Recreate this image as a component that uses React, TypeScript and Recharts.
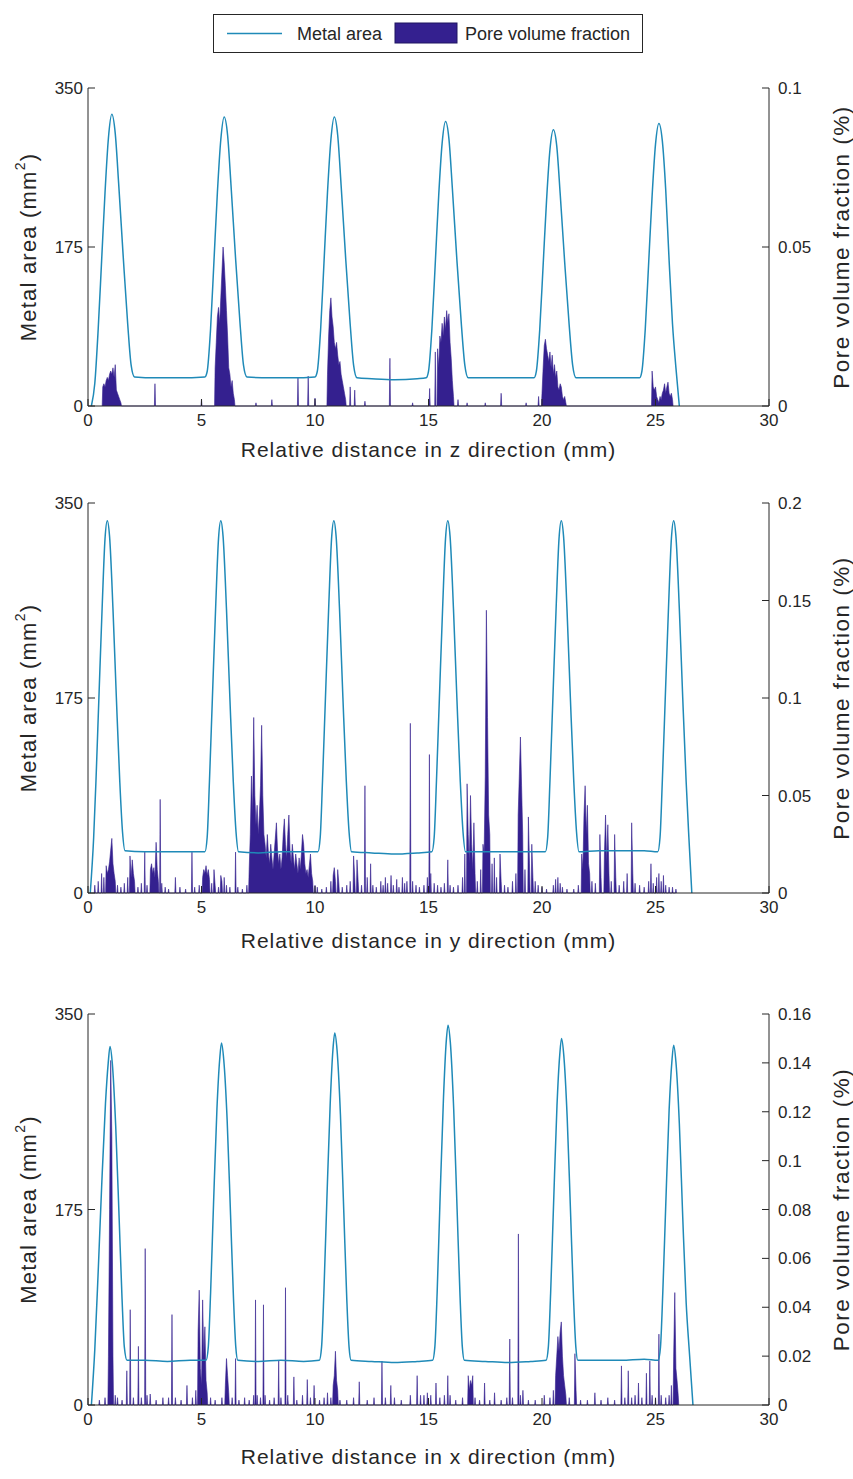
import React from "react";
import { ComposedChart, Line, Area, XAxis, YAxis } from "recharts";

const INK = "#262626";
const METAL_COLOR = "#1f8ab8";
const PORE_COLOR = "#34208f";
const FONT = "'Liberation Sans', Arial, Helvetica, sans-serif";

const X_TICKS = [0, 5, 10, 15, 20, 25, 30];
const AREA_TICKS = [0, 175, 350];

// metal area (mm^2) along each direction, [distance mm, area]
const metalZ: [number, number][] = [
  [0.15, 0], [0.3, 25], [0.45, 85], [0.6, 160], [0.75, 235], [0.9, 295], [1.05, 321], [1.2, 300], [1.35, 245], [1.55, 165], [1.75, 90], [1.9, 45], [2.05, 32],
  [3, 31], [4, 31], [5.15, 32],
  [5.25, 38], [5.4, 85], [5.55, 160], [5.7, 235], [5.85, 293], [6.0, 318], [6.15, 298], [6.3, 243], [6.5, 163], [6.7, 90], [6.85, 45], [7.0, 32],
  [8, 31], [9, 31], [10.0, 32],
  [10.1, 38], [10.25, 85], [10.4, 160], [10.55, 235], [10.7, 293], [10.85, 318], [11.0, 298], [11.15, 243], [11.35, 163], [11.55, 90], [11.7, 45], [11.85, 31],
  [12.5, 30], [13.5, 29], [14.5, 30], [14.9, 31],
  [15.0, 38], [15.15, 85], [15.3, 158], [15.45, 232], [15.6, 289], [15.75, 313], [15.9, 294], [16.05, 240], [16.25, 161], [16.45, 89], [16.6, 45], [16.75, 31],
  [17.5, 31], [18.5, 31], [19.65, 31],
  [19.75, 38], [19.9, 84], [20.05, 155], [20.2, 226], [20.35, 282], [20.5, 304], [20.65, 286], [20.8, 234], [21.0, 158], [21.2, 88], [21.35, 45], [21.5, 31],
  [22.5, 31], [23.5, 31], [24.3, 31],
  [24.4, 38], [24.55, 85], [24.7, 158], [24.85, 231], [25.0, 288], [25.15, 311], [25.3, 292], [25.45, 238], [25.6, 160], [25.75, 90], [25.9, 42], [26.05, 0],
];

const metalY: [number, number][] = [
  [0.1, 0], [0.25, 50], [0.35, 100], [0.48, 175], [0.63, 260], [0.75, 318], [0.85, 334], [0.95, 320], [1.1, 255], [1.25, 175], [1.4, 100], [1.52, 55], [1.63, 38],
  [2.5, 37], [3.5, 37], [4.5, 37], [5.15, 37],
  [5.25, 50], [5.35, 100], [5.48, 175], [5.63, 260], [5.75, 318], [5.85, 334], [5.95, 320], [6.1, 255], [6.25, 175], [6.4, 100], [6.52, 55], [6.63, 37],
  [7.5, 36], [8.5, 37], [9.5, 37], [10.13, 37],
  [10.23, 50], [10.33, 100], [10.46, 175], [10.61, 260], [10.73, 318], [10.83, 334], [10.93, 320], [11.08, 255], [11.23, 175], [11.38, 100], [11.5, 55], [11.61, 37],
  [12.5, 36], [13.5, 35], [14.5, 36], [15.15, 37],
  [15.25, 50], [15.35, 100], [15.48, 175], [15.63, 260], [15.75, 318], [15.85, 334], [15.95, 320], [16.1, 255], [16.25, 175], [16.4, 100], [16.52, 55], [16.63, 37],
  [17.5, 37], [18.5, 37], [19.5, 37], [20.15, 37],
  [20.25, 50], [20.35, 100], [20.48, 175], [20.63, 260], [20.75, 318], [20.85, 334], [20.95, 320], [21.1, 255], [21.25, 175], [21.4, 100], [21.52, 55], [21.63, 37],
  [22.5, 38], [23.5, 38], [24.5, 38], [25.1, 37],
  [25.2, 50], [25.3, 100], [25.43, 175], [25.58, 260], [25.7, 318], [25.8, 334], [25.9, 320], [26.05, 255], [26.2, 175], [26.35, 100], [26.47, 50], [26.6, 0],
];

const metalX: [number, number][] = [
  [0.15, 0], [0.3, 50], [0.45, 120], [0.6, 195], [0.77, 270], [0.89, 306], [0.97, 321], [1.07, 306], [1.22, 250], [1.37, 168], [1.5, 95], [1.6, 52], [1.72, 40],
  [2.5, 40], [3.5, 39], [4.5, 40], [5.2, 40],
  [5.3, 52], [5.4, 100], [5.53, 180], [5.68, 265], [5.8, 309], [5.88, 324], [5.98, 309], [6.13, 255], [6.28, 170], [6.41, 95], [6.51, 52], [6.6, 40],
  [7.5, 39], [8.5, 40], [9.5, 39], [10.19, 40],
  [10.29, 52], [10.39, 100], [10.52, 182], [10.67, 270], [10.79, 318], [10.87, 333], [10.97, 318], [11.12, 260], [11.27, 172], [11.4, 95], [11.5, 52], [11.59, 40],
  [12.5, 39], [13.5, 38], [14.5, 39], [15.18, 40],
  [15.28, 52], [15.38, 100], [15.51, 185], [15.66, 275], [15.78, 325], [15.86, 340], [15.96, 325], [16.11, 265], [16.26, 175], [16.39, 97], [16.49, 52], [16.58, 40],
  [17.5, 39], [18.5, 38], [19.5, 39], [20.18, 40],
  [20.28, 52], [20.38, 100], [20.51, 180], [20.66, 268], [20.78, 313], [20.86, 328], [20.96, 313], [21.11, 257], [21.26, 171], [21.39, 95], [21.49, 52], [21.58, 40],
  [22.5, 40], [23.5, 40], [24.5, 41], [25.12, 40],
  [25.22, 52], [25.32, 100], [25.45, 178], [25.6, 264], [25.72, 307], [25.8, 322], [25.9, 307], [26.05, 252], [26.2, 168], [26.35, 92], [26.5, 45], [26.65, 0],
];

// pore volume fraction (%) peaks, [distance mm, value]
const poreZ: [number, number][] = [
  [0.65, 0.006], [0.7, 0.007], [0.75, 0.006], [0.8, 0.008], [0.85, 0.009], [0.9, 0.008], [0.95, 0.01], [1.0, 0.011], [1.05, 0.01], [1.1, 0.012], [1.15, 0.009], [1.2, 0.013], [1.25, 0.005], [1.3, 0.004], [1.35, 0.003], [1.4, 0.002], [1.45, 0.001],
  [2.95, 0.007], [5.0, 0.0022],
  [5.6, 0.012], [5.65, 0.02], [5.7, 0.028], [5.75, 0.031], [5.8, 0.026], [5.85, 0.034], [5.9, 0.042], [5.95, 0.05], [6.0, 0.045], [6.05, 0.038], [6.1, 0.03], [6.15, 0.022], [6.2, 0.012], [6.25, 0.01], [6.3, 0.006], [6.35, 0.008], [6.4, 0.004], [6.45, 0.002],
  [7.4, 0.001], [8.1, 0.002], [9.25, 0.009], [9.7, 0.0094], [10.0, 0.0025],
  [10.55, 0.01], [10.6, 0.022], [10.65, 0.03], [10.7, 0.034], [10.75, 0.028], [10.8, 0.025], [10.85, 0.02], [10.9, 0.018], [10.95, 0.02], [11.0, 0.016], [11.05, 0.013], [11.1, 0.014], [11.15, 0.01], [11.2, 0.008], [11.25, 0.006], [11.3, 0.004], [11.35, 0.002],
  [11.55, 0.006], [11.75, 0.005], [12.2, 0.0015], [13.3, 0.015], [14.3, 0.001],
  [15.05, 0.0055], [15.3, 0.017],
  [15.4, 0.018], [15.45, 0.012], [15.5, 0.022], [15.55, 0.02], [15.6, 0.026], [15.65, 0.022], [15.7, 0.028], [15.75, 0.024], [15.8, 0.03], [15.85, 0.026], [15.9, 0.029], [15.95, 0.02], [16.0, 0.015], [16.05, 0.008], [16.1, 0.003],
  [16.3, 0.002], [16.7, 0.001], [17.5, 0.001], [18.2, 0.004], [19.3, 0.001],
  [19.85, 0.003],
  [20.0, 0.004], [20.05, 0.012], [20.1, 0.019], [20.15, 0.021], [20.2, 0.018], [20.25, 0.016], [20.3, 0.014], [20.35, 0.017], [20.4, 0.012], [20.45, 0.016], [20.5, 0.01], [20.55, 0.013], [20.6, 0.009], [20.65, 0.011], [20.7, 0.006], [20.75, 0.005], [20.8, 0.007], [20.85, 0.006], [20.9, 0.003], [20.95, 0.002], [21.0, 0.003], [21.05, 0.001],
  [24.85, 0.011], [24.9, 0.006], [24.95, 0.005], [25.0, 0.006], [25.05, 0.003], [25.1, 0.002], [25.15, 0.001], [25.2, 0.003], [25.25, 0.002], [25.3, 0.004], [25.35, 0.005], [25.4, 0.007], [25.45, 0.004], [25.5, 0.006], [25.55, 0.0075], [25.6, 0.004], [25.65, 0.003], [25.7, 0.004], [25.75, 0.002],
];

const poreY: [number, number][] = [
  [0.3, 0.004], [0.45, 0.006], [0.6, 0.01], [0.7, 0.008], [0.8, 0.014], [0.85, 0.01], [0.9, 0.012], [0.95, 0.016], [1.0, 0.022], [1.05, 0.028], [1.1, 0.015], [1.15, 0.01], [1.2, 0.006], [1.3, 0.004], [1.45, 0.003],
  [1.6, 0.005], [1.75, 0.008], [1.85, 0.019], [1.9, 0.008], [1.95, 0.017], [2.0, 0.01], [2.05, 0.006], [2.2, 0.003], [2.35, 0.005], [2.5, 0.021], [2.6, 0.004],
  [2.75, 0.012], [2.8, 0.015], [2.85, 0.01], [2.9, 0.013], [2.95, 0.008], [3.0, 0.026], [3.05, 0.012], [3.1, 0.006], [3.18, 0.048], [3.25, 0.005], [3.4, 0.003], [3.55, 0.002],
  [3.85, 0.008], [4.05, 0.003], [4.3, 0.002], [4.58, 0.021], [4.7, 0.003], [4.9, 0.004],
  [5.05, 0.008], [5.1, 0.012], [5.15, 0.01], [5.2, 0.014], [5.25, 0.009], [5.3, 0.012], [5.35, 0.007], [5.45, 0.005], [5.55, 0.012], [5.6, 0.004], [5.75, 0.003], [5.85, 0.009], [5.9, 0.006], [6.0, 0.008], [6.1, 0.004], [6.25, 0.003], [6.5, 0.021], [6.6, 0.003], [6.8, 0.002],
  [7.0, 0.004], [7.1, 0.012], [7.15, 0.03], [7.2, 0.06], [7.25, 0.04], [7.3, 0.09], [7.35, 0.05], [7.4, 0.035], [7.45, 0.045], [7.5, 0.03], [7.55, 0.04], [7.6, 0.055], [7.65, 0.086], [7.7, 0.05], [7.75, 0.03], [7.8, 0.025], [7.85, 0.018], [7.9, 0.03], [7.95, 0.02],
  [8.0, 0.015], [8.05, 0.025], [8.1, 0.018], [8.15, 0.012], [8.2, 0.02], [8.25, 0.028], [8.3, 0.036], [8.35, 0.022], [8.4, 0.015], [8.45, 0.02], [8.5, 0.012], [8.55, 0.018], [8.6, 0.03], [8.65, 0.038], [8.7, 0.025], [8.75, 0.018], [8.8, 0.03], [8.85, 0.04], [8.9, 0.022], [8.95, 0.015],
  [9.0, 0.025], [9.05, 0.018], [9.1, 0.012], [9.15, 0.02], [9.2, 0.015], [9.25, 0.01], [9.3, 0.018], [9.35, 0.012], [9.4, 0.02], [9.45, 0.03], [9.5, 0.025], [9.55, 0.015], [9.6, 0.01], [9.65, 0.012], [9.7, 0.008], [9.75, 0.014], [9.8, 0.02], [9.85, 0.01], [9.9, 0.006],
  [10.0, 0.004], [10.1, 0.003], [10.3, 0.002], [10.5, 0.003], [10.7, 0.006], [10.8, 0.009], [10.85, 0.013], [10.9, 0.006], [11.0, 0.012], [11.05, 0.005], [11.2, 0.003], [11.4, 0.004], [11.55, 0.006], [11.7, 0.019], [11.75, 0.008], [11.85, 0.017], [11.9, 0.006],
  [12.05, 0.004], [12.2, 0.055], [12.3, 0.008], [12.45, 0.015], [12.55, 0.004], [12.7, 0.003], [12.9, 0.006], [13.0, 0.004], [13.1, 0.008], [13.2, 0.005], [13.35, 0.009], [13.45, 0.004], [13.6, 0.007], [13.7, 0.003], [13.85, 0.008], [13.95, 0.005],
  [14.05, 0.006], [14.2, 0.087], [14.3, 0.006], [14.45, 0.004], [14.6, 0.003], [14.8, 0.004], [14.95, 0.008], [15.04, 0.071], [15.1, 0.01], [15.25, 0.005], [15.4, 0.004], [15.55, 0.003], [15.7, 0.005], [15.85, 0.017], [15.95, 0.004],
  [16.1, 0.003], [16.3, 0.004], [16.5, 0.008], [16.6, 0.02], [16.7, 0.056], [16.75, 0.03], [16.8, 0.015], [16.85, 0.05], [16.9, 0.025], [16.95, 0.012], [17.0, 0.036], [17.05, 0.01], [17.15, 0.006],
  [17.3, 0.012], [17.4, 0.025], [17.45, 0.02], [17.5, 0.06], [17.55, 0.145], [17.6, 0.09], [17.65, 0.04], [17.7, 0.03], [17.8, 0.015], [17.9, 0.018], [18.0, 0.008], [18.15, 0.02], [18.2, 0.006], [18.35, 0.004], [18.5, 0.003],
  [18.7, 0.006], [18.85, 0.01], [18.95, 0.04], [19.0, 0.06], [19.05, 0.08], [19.1, 0.055], [19.15, 0.03], [19.25, 0.012], [19.4, 0.039], [19.45, 0.015], [19.55, 0.025], [19.6, 0.008], [19.7, 0.006], [19.83, 0.004],
  [20.0, 0.003], [20.2, 0.002], [20.5, 0.004], [20.6, 0.007], [20.7, 0.008], [20.8, 0.005], [20.9, 0.003], [21.1, 0.002], [21.4, 0.002], [21.6, 0.004],
  [21.75, 0.02], [21.8, 0.012], [21.85, 0.04], [21.9, 0.055], [21.95, 0.03], [22.0, 0.045], [22.05, 0.015], [22.1, 0.01], [22.2, 0.006], [22.35, 0.005], [22.55, 0.03], [22.6, 0.008],
  [22.75, 0.02], [22.8, 0.04], [22.85, 0.015], [22.9, 0.035], [22.95, 0.01], [23.05, 0.006], [23.2, 0.03], [23.25, 0.008], [23.4, 0.004], [23.6, 0.006], [23.75, 0.01], [23.95, 0.036], [24.0, 0.01], [24.1, 0.005],
  [24.3, 0.004], [24.5, 0.003], [24.7, 0.006], [24.8, 0.015], [24.9, 0.005], [25.05, 0.008], [25.15, 0.01], [25.25, 0.006], [25.35, 0.009], [25.45, 0.004], [25.6, 0.003], [25.75, 0.003], [25.9, 0.002],
];

const poreX: [number, number][] = [
  [0.5, 0.002], [0.75, 0.003], [0.9, 0.02], [0.95, 0.08], [1.0, 0.141], [1.05, 0.11], [1.1, 0.02], [1.2, 0.004], [1.3, 0.003], [1.5, 0.002],
  [1.71, 0.014], [1.86, 0.039], [2.0, 0.003], [2.22, 0.024], [2.35, 0.003], [2.52, 0.064], [2.6, 0.004], [2.74, 0.0045], [3.0, 0.002], [3.3, 0.003], [3.55, 0.003], [3.7, 0.037], [3.85, 0.003], [4.1, 0.002], [4.36, 0.008], [4.6, 0.003],
  [4.75, 0.006], [4.85, 0.03], [4.9, 0.047], [4.95, 0.015], [5.0, 0.008], [5.05, 0.043], [5.1, 0.02], [5.15, 0.032], [5.2, 0.01], [5.25, 0.005], [5.4, 0.003], [5.6, 0.002], [5.9, 0.003],
  [6.05, 0.008], [6.1, 0.019], [6.15, 0.012], [6.2, 0.005], [6.35, 0.003], [6.5, 0.019], [6.65, 0.002], [6.9, 0.003], [7.1, 0.002], [7.3, 0.004], [7.38, 0.043], [7.45, 0.004], [7.6, 0.003], [7.73, 0.041], [7.8, 0.004],
  [8.0, 0.002], [8.2, 0.003], [8.4, 0.018], [8.5, 0.003], [8.7, 0.048], [8.8, 0.004], [9.07, 0.0115], [9.2, 0.002], [9.45, 0.004], [9.66, 0.0104], [9.8, 0.003], [9.96, 0.008],
  [10.2, 0.002], [10.4, 0.003], [10.55, 0.005], [10.7, 0.003], [10.8, 0.008], [10.85, 0.012], [10.9, 0.022], [10.95, 0.01], [11.0, 0.006], [11.1, 0.002], [11.4, 0.002], [11.7, 0.003], [11.95, 0.0095],
  [12.3, 0.002], [12.6, 0.003], [12.95, 0.018], [13.1, 0.003], [13.34, 0.008], [13.5, 0.003], [13.8, 0.002], [14.2, 0.004], [14.5, 0.012], [14.65, 0.004], [14.8, 0.004], [14.95, 0.005], [15.1, 0.004], [15.33, 0.009], [15.5, 0.003], [15.7, 0.004], [15.85, 0.012], [15.95, 0.004],
  [16.2, 0.002], [16.5, 0.003], [16.75, 0.012], [16.8, 0.006], [16.85, 0.01], [16.9, 0.008], [16.95, 0.012], [17.05, 0.003], [17.25, 0.002], [17.47, 0.009], [17.7, 0.002], [17.91, 0.005],
  [18.2, 0.002], [18.45, 0.003], [18.58, 0.027], [18.7, 0.003], [18.96, 0.07], [19.05, 0.004], [19.16, 0.006], [19.4, 0.002], [19.7, 0.002], [20.1, 0.004], [20.35, 0.003],
  [20.5, 0.006], [20.6, 0.012], [20.65, 0.02], [20.7, 0.028], [20.75, 0.022], [20.8, 0.03], [20.85, 0.034], [20.9, 0.02], [20.95, 0.012], [21.0, 0.008], [21.05, 0.004], [21.2, 0.003], [21.45, 0.021], [21.5, 0.006],
  [21.7, 0.002], [22.0, 0.002], [22.33, 0.005], [22.6, 0.002], [22.9, 0.003], [23.2, 0.002], [23.5, 0.016], [23.65, 0.003], [23.8, 0.014], [23.95, 0.003], [24.1, 0.004], [24.25, 0.009], [24.4, 0.003], [24.6, 0.013], [24.75, 0.018], [24.85, 0.004],
  [25.0, 0.003], [25.15, 0.029], [25.25, 0.004], [25.45, 0.003], [25.6, 0.004], [25.7, 0.008], [25.8, 0.02], [25.85, 0.046], [25.9, 0.015], [25.95, 0.01], [26.0, 0.004],
];

const poreTicksZ = [0, 0.05, 0.1];
const poreTicksY = [0, 0.05, 0.1, 0.15, 0.2];
const poreTicksX = [0, 0.02, 0.04, 0.06, 0.08, 0.1, 0.12, 0.14, 0.16];

// merge both series into one table keyed by distance; isolated spikes get a foot on each side
function buildRows(metal: [number, number][], pores: [number, number][]) {
  const rows = new Map<string, any>();
  const put = (x: number, key: string, v: number) => {
    const k = x.toFixed(3);
    const row = rows.get(k) || { x: +k };
    row[key] = v;
    rows.set(k, row);
  };
  metal.forEach(([x, v]) => put(x, "metal", v));
  pores.forEach(([x, v], i) => {
    const prev = pores[i - 1];
    const next = pores[i + 1];
    if (!prev || x - prev[0] > 0.06) put(x - 0.025, "pore", 0);
    put(x, "pore", v);
    if (!next || next[0] - x > 0.06) put(x + 0.025, "pore", 0);
  });
  return Array.from(rows.values()).sort((a, b) => a.x - b.x);
}

const fmt = (v: number) => String(+v.toFixed(3));

const tickStyle = { fill: INK, fontSize: 17, fontFamily: FONT };

const LeftTitle = (props: any) => {
  const { x, y, height } = props.viewBox;
  const cx = x + 28;
  const cy = y + height / 2;
  return (
    <text x={cx} y={cy} transform={`rotate(-90 ${cx} ${cy})`} textAnchor="middle" dominantBaseline="central"
      style={{ fontSize: 22, letterSpacing: 1.2, fill: INK, fontFamily: FONT }}>
      <tspan>Metal area (mm</tspan>
      <tspan dy={-8} fontSize={14}>2</tspan>
      <tspan dy={8}>)</tspan>
    </text>
  );
};

const RightTitle = (props: any) => {
  const { x, y, height } = props.viewBox;
  const cx = x + 72;
  const cy = y + height / 2;
  return (
    <text x={cx} y={cy} transform={`rotate(-90 ${cx} ${cy})`} textAnchor="middle" dominantBaseline="central"
      style={{ fontSize: 22.5, letterSpacing: 1.5, fill: INK, fontFamily: FONT }}>
      Pore volume fraction (%)
    </text>
  );
};

function Panel({ top, plotHeight, metal, pores, poreMax, poreTicks, xLabel, xLabelGap }: any) {
  const data = buildRows(metal, pores);
  const height = 28 + plotHeight + 60 + 2;
  const BottomTitle = (props: any) => {
    const { x, y, width } = props.viewBox;
    return (
      <text x={x + width / 2} y={y + xLabelGap} textAnchor="middle" dominantBaseline="central"
        style={{ fontSize: 21, letterSpacing: 1, fill: INK, fontFamily: FONT }}>
        {xLabel}
      </text>
    );
  };
  return (
    <div style={{ position: "absolute", left: 0, top }}>
      <ComposedChart width={853} height={height} data={data} margin={{ top: 28, right: 0, bottom: 2, left: 0 }}>
        <XAxis
          xAxisId="b"
          type="number"
          dataKey="x"
          domain={[0, 30]}
          ticks={X_TICKS}
          interval={0}
          height={60}
          tickSize={-7}
          tickMargin={15}
          axisLine={{ stroke: INK }}
          tickLine={{ stroke: INK }}
          tick={tickStyle}
          label={{ content: BottomTitle }}
        />
        <XAxis
          xAxisId="t"
          orientation="top"
          type="number"
          dataKey="x"
          domain={[0, 30]}
          ticks={X_TICKS}
          interval={0}
          height={0}
          tickSize={-7}
          tick={false}
          axisLine={{ stroke: INK }}
          tickLine={{ stroke: INK }}
        />
        <YAxis
          yAxisId="area"
          orientation="left"
          width={88}
          domain={[0, 350]}
          ticks={AREA_TICKS}
          interval={0}
          tickSize={-7}
          tickMargin={12}
          axisLine={{ stroke: INK }}
          tickLine={{ stroke: INK }}
          tick={tickStyle}
          label={{ content: LeftTitle }}
        />
        <YAxis
          yAxisId="pore"
          orientation="right"
          width={84}
          domain={[0, poreMax]}
          ticks={poreTicks}
          interval={0}
          tickSize={-7}
          tickMargin={16}
          tickFormatter={fmt}
          axisLine={{ stroke: INK }}
          tickLine={{ stroke: INK }}
          tick={{ ...tickStyle, textAnchor: "start" }}
          label={{ content: RightTitle }}
        />
        <Area
          xAxisId="b"
          yAxisId="pore"
          dataKey="pore"
          type="linear"
          connectNulls
          fill={PORE_COLOR}
          fillOpacity={1}
          stroke={PORE_COLOR}
          strokeWidth={0.6}
          dot={false}
          activeDot={false}
          isAnimationActive={false}
        />
        <Line
          xAxisId="b"
          yAxisId="area"
          dataKey="metal"
          type="monotone"
          connectNulls
          stroke={METAL_COLOR}
          strokeWidth={1.5}
          dot={false}
          activeDot={false}
          isAnimationActive={false}
        />
      </ComposedChart>
    </div>
  );
}

function LegendBox() {
  return (
    <svg style={{ position: "absolute", left: 213, top: 14 }} width={430} height={39}>
      <rect x={0.5} y={0.5} width={429} height={38} fill="#fff" stroke={INK} />
      <line x1={14} y1={19.5} x2={69} y2={19.5} stroke={METAL_COLOR} strokeWidth={1.5} />
      <text x={84} y={20} dominantBaseline="central" fontSize={18} fill={INK} fontFamily={FONT}>Metal area</text>
      <rect x={182} y={9} width={62} height={20} fill={PORE_COLOR} stroke="#1e1460" />
      <text x={252} y={20} dominantBaseline="central" fontSize={18} fill={INK} fontFamily={FONT}>Pore volume fraction</text>
    </svg>
  );
}

export default function App() {
  return (
    <div style={{ position: "absolute", left: 0, top: 0, width: 853, height: 1479, background: "#fff", fontFamily: FONT }}>
      <LegendBox />
      <Panel top={60} plotHeight={318} metal={metalZ} pores={poreZ} poreMax={0.1} poreTicks={poreTicksZ} xLabel="Relative distance in z direction (mm)" xLabelGap={43} />
      <Panel top={475} plotHeight={390} metal={metalY} pores={poreY} poreMax={0.2} poreTicks={poreTicksY} xLabel="Relative distance in y direction (mm)" xLabelGap={47} />
      <Panel top={986} plotHeight={391} metal={metalX} pores={poreX} poreMax={0.16} poreTicks={poreTicksX} xLabel="Relative distance in x direction (mm)" xLabelGap={51} />
    </div>
  );
}
